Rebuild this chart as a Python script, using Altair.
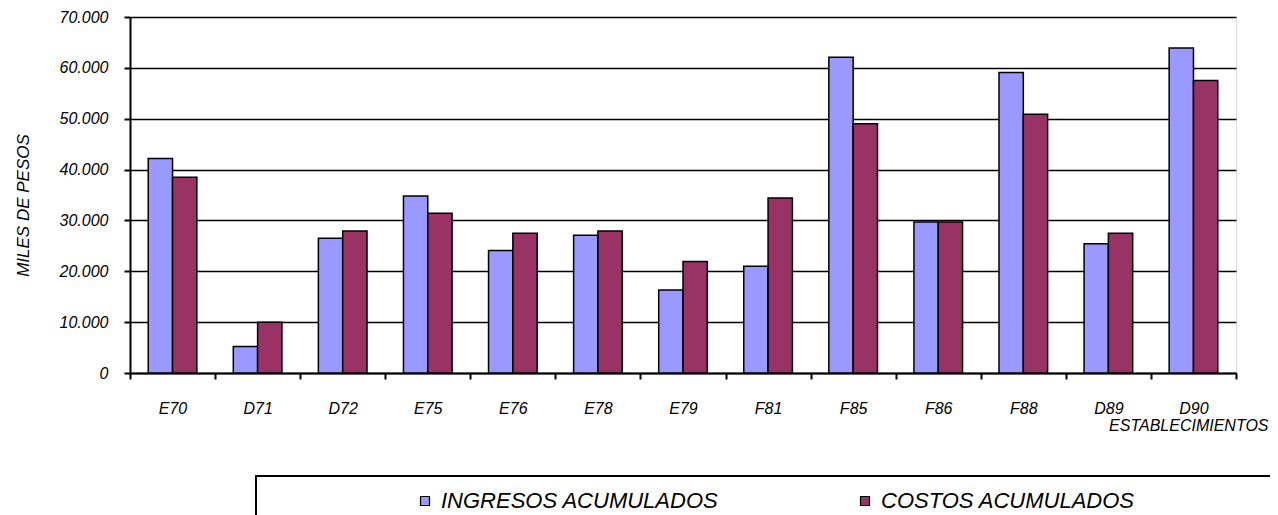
import altair as alt
import pandas as pd

categorias = ["E70", "D71", "D72", "E75", "E76", "E78", "E79", "F81", "F85", "F86", "F88", "D89", "D90"]
ingresos = [42200, 5200, 26500, 34800, 24100, 27100, 16300, 21000, 62100, 29700, 59100, 25400, 63900]
costos = [38500, 10000, 27900, 31400, 27500, 27900, 21900, 34400, 49000, 29700, 50900, 27500, 57500]
series = ["INGRESOS ACUMULADOS", "COSTOS ACUMULADOS"]
colores = ["#9999FF", "#993366"]
y_ticks = [0, 10000, 20000, 30000, 40000, 50000, 60000, 70000]

rows = []
for c, i, k in zip(categorias, ingresos, costos):
    rows.append({"cat": c, "serie": series[0], "valor": i})
    rows.append({"cat": c, "serie": series[1], "valor": k})
df = pd.DataFrame(rows)

FONT = "Liberation Sans"

bars = alt.Chart(df).mark_bar(stroke="black", strokeWidth=1.5).encode(
    x=alt.X(
        "cat:N",
        sort=categorias,
        scale=alt.Scale(paddingInner=0, paddingOuter=0),
        axis=alt.Axis(
            labelAngle=0, tickBand="extent", labelFont=FONT, labelFontStyle="italic",
            labelFontSize=16, labelColor="black", labelPadding=21,
            tickSize=6, tickWidth=2, tickColor="black",
            domainColor="black", domainWidth=2, grid=False,
            title="ESTABLECIMIENTOS", titleFont=FONT, titleFontStyle="italic",
            titleFontWeight="normal", titleFontSize=16, titleColor="black",
            titleX=1138, titleY=57, titleAlign="right", titleBaseline="alphabetic",
        ),
    ),
    xOffset=alt.XOffset("serie:N", sort=series,
                        scale=alt.Scale(domain=series, paddingInner=0, paddingOuter=0.75)),
    y=alt.Y(
        "valor:Q",
        scale=alt.Scale(domain=[0, 70000], nice=False),
        axis=alt.Axis(
            values=y_ticks,
            labelExpr="replace(format(datum.value, ',d'), ',', '.')",
            labelFont=FONT, labelFontStyle="italic", labelFontSize=16, labelColor="black",
            labelPadding=16, tickSize=6, tickWidth=2, tickColor="black",
            domainColor="black", domainWidth=2,
            grid=True, gridColor="black", gridWidth=1.5,
            title="MILES DE PESOS", titleFont=FONT, titleFontStyle="italic",
            titleFontWeight="normal", titleFontSize=17, titleColor="black",
            titleX=-107, titleY=188, titleAngle=270, titleAlign="center",
            titleBaseline="middle",
        ),
    ),
    color=alt.Color(
        "serie:N",
        sort=series,
        scale=alt.Scale(domain=series, range=colores),
        legend=alt.Legend(
            title=None, orient="none", legendX=284, legendY=473, direction="horizontal",
            symbolType="square", symbolSize=81, symbolStrokeColor="black",
            symbolStrokeWidth=1.2, symbolOpacity=1,
            labelFont=FONT, labelFontStyle="italic", labelFontSize=22, labelColor="black",
            labelOffset=5, labelLimit=500, columnPadding=135, padding=0,
        ),
    ),
)

frame = alt.Chart(pd.DataFrame({"k": [0]})).mark_rect(
    fill="white", fillOpacity=0, stroke="black", strokeWidth=2
).encode(
    x=alt.value(126), x2=alt.value(1300), y=alt.value(459), y2=alt.value(600)
)

chart = alt.layer(frame, bars).properties(
    width=1106, height=356,
    autosize=alt.AutoSizeParams(type="none"),
    padding={"left": 122, "top": 9, "right": 34, "bottom": 142},
).configure_view(stroke="black", strokeWidth=2).configure(background="white")

chart.save("out.html", embed_options={"renderer": "svg", "actions": False})
